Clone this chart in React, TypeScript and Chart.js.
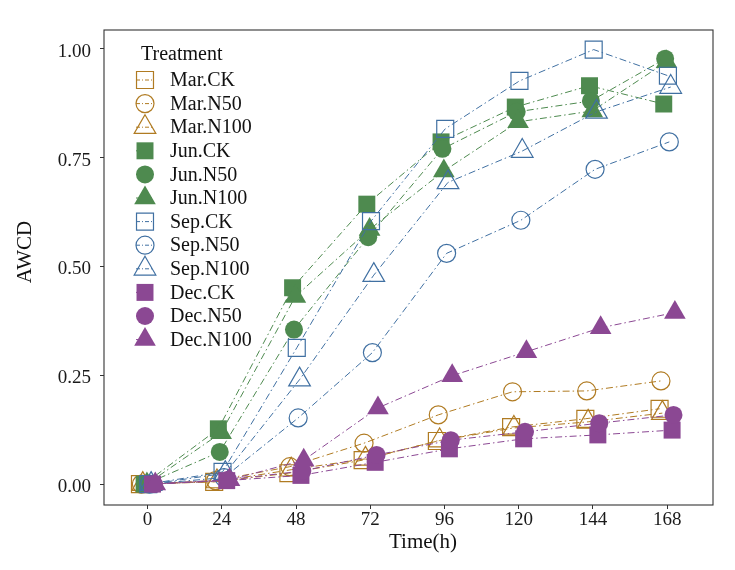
import React, { useEffect, useRef } from "react";
import { Chart, registerables } from "chart.js";

Chart.register(...registerables);

const times = [0, 24, 48, 72, 96, 120, 144, 168];
const xTicks = [0, 24, 48, 72, 96, 120, 144, 168];
const yTicks = [0, 0.25, 0.5, 0.75, 1.0];

const seriesNames = [
  "Mar.CK", "Mar.N50", "Mar.N100",
  "Jun.CK", "Jun.N50", "Jun.N100",
  "Sep.CK", "Sep.N50", "Sep.N100",
  "Dec.CK", "Dec.N50", "Dec.N100",
];

const marCK = [0, 0.005, 0.025, 0.055, 0.099, 0.131, 0.150, 0.173];
const marN50 = [0, 0.008, 0.040, 0.094, 0.159, 0.212, 0.214, 0.237];
const marN100 = [0, 0.006, 0.033, 0.058, 0.100, 0.129, 0.143, 0.163];
const junCK = [0, 0.127, 0.451, 0.643, 0.786, 0.866, 0.915, 0.873];
const junN50 = [0, 0.074, 0.355, 0.567, 0.770, 0.855, 0.880, 0.977];
const junN100 = [0, 0.118, 0.431, 0.585, 0.719, 0.832, 0.857, 0.970];
const sepCK = [0, 0.028, 0.313, 0.604, 0.816, 0.926, 0.998, 0.938];
const sepN50 = [0, 0.015, 0.152, 0.302, 0.530, 0.606, 0.723, 0.786];
const sepN100 = [0, 0.025, 0.240, 0.480, 0.693, 0.765, 0.855, 0.912];
const decCK = [0, 0.008, 0.020, 0.050, 0.081, 0.104, 0.113, 0.124];
const decN50 = [0, 0.010, 0.030, 0.067, 0.101, 0.120, 0.140, 0.159];
const decN100 = [0, 0.010, 0.055, 0.175, 0.249, 0.304, 0.359, 0.394];

const seriesValues = [
  marCK, marN50, marN100,
  junCK, junN50, junN100,
  sepCK, sepN50, sepN100,
  decCK, decN50, decN100,
];

// styles
const seasonColors = ["#B07B22", "#4E8A4F", "#4070A2", "#8B4893"];
const seasonFilled = [false, true, false, true];
const shapes = ["rect", "circle", "triangle"];
const shapeRadius: Record<string, number> = { rect: 12, circle: 9, triangle: 12.5 };
const dodgeStep = 0.45; // hours per group (position dodge)
const FONT = "'Liberation Serif', 'Times New Roman', serif";
const dash = [7, 3, 1.5, 3];

function drawShape(ctx: CanvasRenderingContext2D, shape: string, x: number, y: number, r: number, color: string, filled: boolean) {
  ctx.save();
  ctx.beginPath();
  if (shape === "rect") {
    const s = r / Math.SQRT2;
    ctx.rect(x - s, y - s, 2 * s, 2 * s);
  } else if (shape === "circle") {
    ctx.arc(x, y, r, 0, Math.PI * 2);
  } else {
    let rad = 0;
    ctx.moveTo(x + Math.sin(rad) * r, y - Math.cos(rad) * r);
    rad += (2 * Math.PI) / 3;
    ctx.lineTo(x + Math.sin(rad) * r, y - Math.cos(rad) * r);
    rad += (2 * Math.PI) / 3;
    ctx.lineTo(x + Math.sin(rad) * r, y - Math.cos(rad) * r);
    ctx.closePath();
  }
  if (filled) {
    ctx.fillStyle = color;
    ctx.fill();
  } else {
    ctx.strokeStyle = color;
    ctx.lineWidth = 1.2;
    ctx.stroke();
  }
  ctx.restore();
}

const decorPlugin = {
  id: "decor",
  afterDraw(chart: any) {
    const ctx: CanvasRenderingContext2D = chart.ctx;
    const a = chart.chartArea;
    ctx.save();
    // panel border
    ctx.strokeStyle = "#333333";
    ctx.lineWidth = 1.1;
    ctx.strokeRect(a.left, a.top, a.right - a.left, a.bottom - a.top);
    // axis titles
    ctx.fillStyle = "#111111";
    ctx.font = `21px ${FONT}`;
    ctx.textAlign = "center";
    ctx.textBaseline = "alphabetic";
    ctx.fillText("Time(h)", 423, 548);
    ctx.save();
    ctx.translate(31, 252);
    ctx.rotate(-Math.PI / 2);
    ctx.fillText("AWCD", 0, 0);
    ctx.restore();
    // legend
    ctx.textAlign = "left";
    ctx.font = `20px ${FONT}`;
    ctx.fillText("Treatment", 141, 60);
    const step = 23.6;
    chart.data.datasets.forEach((ds: any, i: number) => {
      const cy = 80 + i * step;
      const cx = 145;
      const color = ds.borderColor;
      ctx.save();
      ctx.strokeStyle = color;
      ctx.lineWidth = 1;
      ctx.setLineDash([4, 2, 1, 2]);
      ctx.beginPath();
      ctx.moveTo(cx - 9, cy);
      ctx.lineTo(cx + 9, cy);
      ctx.stroke();
      ctx.restore();
      drawShape(ctx, ds._shape, cx, cy, ds._legendR, color, ds._filled);
      ctx.fillStyle = "#111111";
      ctx.textBaseline = "middle";
      ctx.fillText(ds.label, 170, cy + 1);
    });
    ctx.restore();
  },
};

export default function App() {
  const ref = useRef<HTMLCanvasElement | null>(null);

  useEffect(() => {
    if (!ref.current) return;
    const datasets = seriesNames.map((name, i) => {
      const season = Math.floor(i / 3);
      const shape = shapes[i % 3];
      const color = seasonColors[season];
      const filled = seasonFilled[season];
      const off = (i - 5.5) * dodgeStep;
      return {
        label: name,
        data: times.map((t, k) => ({ x: t + off, y: seriesValues[i][k] })),
        borderColor: color,
        backgroundColor: filled ? color : "rgba(0,0,0,0)",
        pointBackgroundColor: filled ? color : "rgba(0,0,0,0)",
        pointBorderColor: color,
        pointBorderWidth: filled ? 0 : 1.2,
        pointStyle: shape,
        pointRadius: shapeRadius[shape],
        borderWidth: 1,
        borderDash: dash,
        showLine: true,
        fill: false,
        tension: 0,
        order: 11 - i,
        _shape: shape,
        _filled: filled,
        _legendR: shape === "rect" ? 12 : shape === "circle" ? 9 : 12.5,
      } as any;
    });

    const chart = new Chart(ref.current, {
      type: "scatter",
      data: { datasets },
      options: {
        responsive: false,
        animation: false,
        events: [],
        layout: { padding: { top: 30, right: 22, left: 0, bottom: 0 } },
        plugins: { legend: { display: false }, tooltip: { enabled: false }, title: { display: false } },
        scales: {
          x: {
            type: "linear",
            min: -14.1,
            max: 182.8,
            afterBuildTicks: (s: any) => { s.ticks = xTicks.map((v) => ({ value: v })); },
            afterFit: (s: any) => { s.height = 65; },
            ticks: {
              font: { family: FONT, size: 19 },
              color: "#1a1a1a",
              padding: 0,
              maxRotation: 0,
              autoSkip: false,
              callback: (v: any) => String(v),
            },
            grid: { drawOnChartArea: false, drawTicks: true, tickLength: 4, color: "#333333", lineWidth: 1 },
            border: { display: false },
          },
          y: {
            type: "linear",
            min: -0.048,
            max: 1.043,
            afterBuildTicks: (s: any) => { s.ticks = yTicks.map((v) => ({ value: v })); },
            afterFit: (s: any) => { s.width = 104; },
            ticks: {
              font: { family: FONT, size: 19 },
              color: "#1a1a1a",
              padding: 9,
              labelOffset: 3,
              autoSkip: false,
              callback: (v: any) => Number(v).toFixed(2),
            },
            grid: { drawOnChartArea: false, drawTicks: true, tickLength: 4, color: "#333333", lineWidth: 1 },
            border: { display: false },
          },
        },
      },
      plugins: [decorPlugin],
    });
    return () => chart.destroy();
  }, []);

  return (
    <div style={{ position: "absolute", left: 0, top: 0, width: 735, height: 570, background: "#ffffff" }}>
      <canvas ref={ref} width={735} height={570} />
    </div>
  );
}
